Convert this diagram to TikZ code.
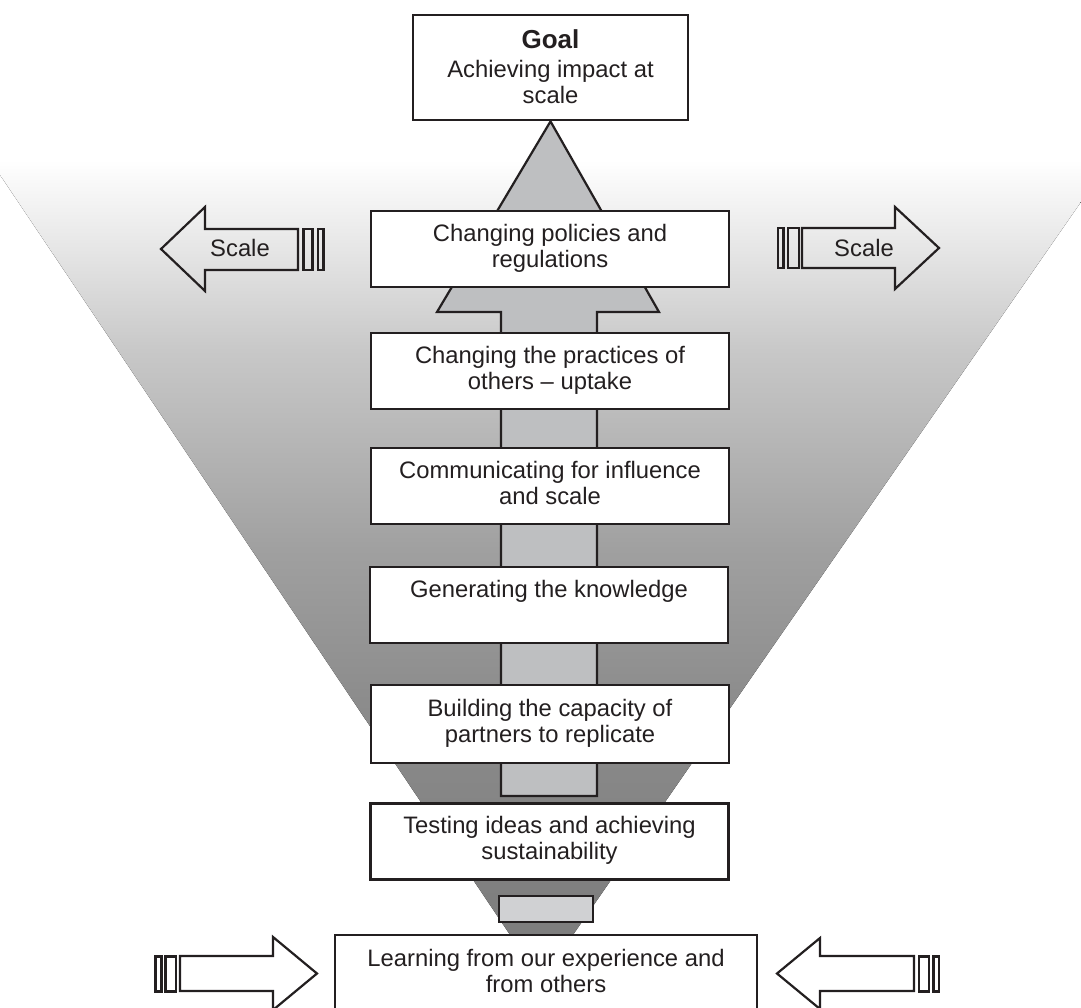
\documentclass[tikz,border=0pt]{standalone}
\usepackage{fontspec}
\setmainfont{Liberation Sans}
\definecolor{ink}{RGB}{35,31,32}
\definecolor{arrowgray}{RGB}{190,191,193}
\definecolor{rectgray}{RGB}{208,209,211}
\definecolor{sA}{gray}{0.486}
\definecolor{sB}{gray}{0.502}
\definecolor{sC}{gray}{0.549}
\definecolor{sD}{gray}{0.627}
\definecolor{sE}{gray}{0.706}
\definecolor{sF}{gray}{0.784}
\definecolor{sG}{gray}{0.900}
% square bounding box of the funnel path: y from -139 to 981 (1120), x from -10 to 1110
\pgfdeclareverticalshading{funnelshade}{100bp}{color(0bp)=(sA); color(25bp)=(sA); color(29.51bp)=(sB); color(37.54bp)=(sC); color(44.24bp)=(sD); color(48.71bp)=(sE); color(53.17bp)=(sF); color(57.63bp)=(sG); color(61.65bp)=(white); color(100bp)=(white)}
\newcommand\mytop{\rule{0pt}{16.5pt}}
\newcommand\mybot{\rule[-7pt]{0pt}{7pt}}
\begin{document}
\begin{tikzpicture}[x=1pt,y=-1pt,
  stage/.style={draw=ink, line width=2.8pt, fill=white, minimum width=358pt,
    minimum height=76pt, inner sep=0pt, align=center, text=ink,
    font=\fontsize{23.8}{26}\selectfont},
  bigarrow/.style={draw=ink, line width=2.2pt, fill=arrowgray, line join=miter},
  sidearrow/.style={draw=ink, line width=2.2pt, line join=miter},
  lbl/.style={text=ink, font=\fontsize{23.8}{26}\selectfont, inner sep=0pt, anchor=base}]
\useasboundingbox (0,0) rectangle (1081,1008);
\clip (0,0) rectangle (1081,1008);
\fill[white] (0,0) rectangle (1081,1008);
% funnel (upper part white, square bounding box)
\fill[shading=funnelshade] (-10,-139) -- (1110,-139) -- (1110,160) -- (541,981)
  -- (-10,160) -- cycle;
% goal box
\node[stage, minimum width=275pt, minimum height=105pt] (goal) at (550.5,67.5)
  {{\fontsize{26}{29}\selectfont\bfseries Goal}\\[3pt]Achieving impact at\\scale\rule[-2pt]{0pt}{2pt}};
% central arrow
\draw[bigarrow] (goal.south) -- (659,312) -- (597,312) -- (597,796) -- (501,796)
  -- (501,312) -- (437,312) -- cycle;
% stage boxes
\node[stage] (policies) at (550,249) {\mytop Changing policies and\\regulations\mybot};
\node[stage] (practices) at (550,371) {\mytop Changing the practices of\\others -- uptake\mybot};
\node[stage] (comm) at (550,486) {\mytop Communicating for influence\\and scale\mybot};
\node[stage] (knowledge) at (549,605) {\mytop Generating the knowledge\\\mybot};
\node[stage, minimum height=78pt] (capacity) at (550,724) {\mytop Building the capacity of\\partners to replicate\mybot};
\node[stage] (testing) at (549.5,841.5) {\mytop Testing ideas and achieving\\sustainability\mybot};
\node[draw=ink, line width=2.8pt, fill=rectgray, minimum width=94pt, minimum height=26pt, inner sep=0pt] (link) at (546,909) {};
\node[stage, minimum width=422pt, minimum height=78pt] (learning) at (546,974)
  {\mytop Learning from our experience and\\from others\mybot};
% left scale arrow
\draw[sidearrow] (161,249) -- (205,207) -- (205,229) -- (298,229) -- (298,270)
  -- (205,270) -- (205,291) -- cycle;
\draw[sidearrow] (303.5,229) rectangle (312.5,270);
\draw[sidearrow] (318,229) rectangle (323.5,270);
\node[lbl] (scaleL) at (240,256.7) {Scale};
% right scale arrow
\draw[sidearrow] (939,248) -- (895,207) -- (895,228) -- (802,228) -- (802,268)
  -- (895,268) -- (895,289) -- cycle;
\draw[sidearrow] (788,228) rectangle (799,268);
\draw[sidearrow] (778,228) rectangle (783.5,268);
\node[lbl] (scaleR) at (864,256.7) {Scale};
% bottom left input arrow
\coordinate (inL) at (317,973.5);
\draw[sidearrow] (inL) -- (273,937) -- (273,956) -- (180,956) -- (180,991)
  -- (273,991) -- (273,1010) -- cycle;
\draw[sidearrow] (165.5,956.5) rectangle (176,991.5);
\draw[sidearrow] (155.5,956.5) rectangle (161.5,991.5);
% bottom right input arrow
\coordinate (inR) at (777,973.5);
\draw[sidearrow] (inR) -- (820,938) -- (820,956) -- (914,956) -- (914,991)
  -- (820,991) -- (820,1009) -- cycle;
\draw[sidearrow] (919,956.5) rectangle (929,991.5);
\draw[sidearrow] (933.5,956.5) rectangle (939,991.5);
\end{tikzpicture}
\end{document}
